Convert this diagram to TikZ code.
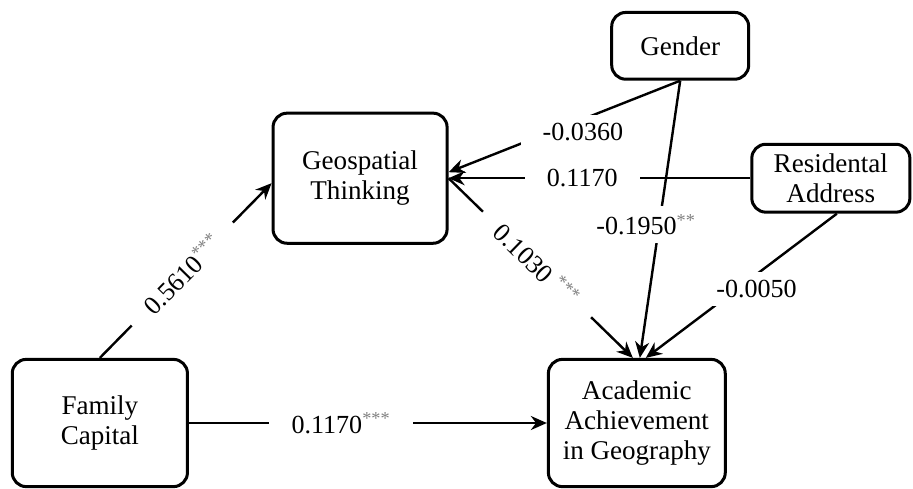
\documentclass[tikz,border=0pt]{standalone}
\usepackage{fontspec}
\setmainfont{Liberation Serif}
\usepackage{tikz}
\usetikzlibrary{arrows.meta,positioning,calc}

\newcommand{\signif}[1]{\textsuperscript{\textcolor{gray}{#1}}}

\begin{document}
\begin{tikzpicture}[
        var/.style={draw, line width=1.5pt, rounded corners=7pt, align=center, inner sep=1pt, fill=white, font=\fontsize{13.5}{15}\selectfont},
        link/.style={-{Stealth[length=8pt,width=7pt]}, line width=1.2pt},
        coef/.style={fill=white, inner xsep=11pt, inner ysep=4pt, font=\fontsize{13}{15}\selectfont}
    ]
        \useasboundingbox (0,0) rectangle (16,8.553);

        % Draw variables
        \node[var, minimum width=2.4cm, minimum height=1.17cm] (gender) at (11.92,7.75) {Gender};
        \node[var, minimum width=3.05cm, minimum height=2.28cm] (geo) at (6.31,5.43) {Geospatial\\Thinking};
        \node[var, minimum width=2.77cm, minimum height=1.19cm] (res) at (14.56,5.43) {Residental\\Address};
        \node[var, minimum width=3.07cm, minimum height=2.23cm] (fam) at (1.75,1.14) {Family\\Capital};
        \node[var, minimum width=3.1cm, minimum height=2.23cm] (aca) at (11.16,1.14) {Academic\\Achievement\\in Geography};

        % Paths into Geospatial Thinking
        \draw[link] (fam.north) -- node[coef, pos=0.48, sloped] {0.5610\signif{***}} ([yshift=-2.5pt]geo.west);
        \draw[link] (gender.south) -- node[coef, pos=0.42, yshift=-6.5pt] {-0.0360} ([yshift=3pt]geo.east);
        \draw[link] (res.west) -- node[coef, pos=0.557] {0.1170} (res.west -| geo.east);

        % Paths into Academic Achievement
        \draw[link] (geo.east) -- node[coef, pos=0.48, sloped] {0.1030 \signif{***}} ([xshift=-2pt]aca.north);
        \draw[link] (fam.east) -- node[coef, pos=0.425] {0.1170\signif{***}} (aca.west);
        \draw[link] (gender.south) -- node[coef, pos=0.52, xshift=-6.5pt] {-0.1950\signif{**}} ([xshift=1.5pt]aca.north);
        \draw[link] ([xshift=3pt]res.south) -- node[coef, pos=0.52, xshift=9.5pt] {-0.0050} ([xshift=4.5pt]aca.north);
    \end{tikzpicture}
\end{document}
